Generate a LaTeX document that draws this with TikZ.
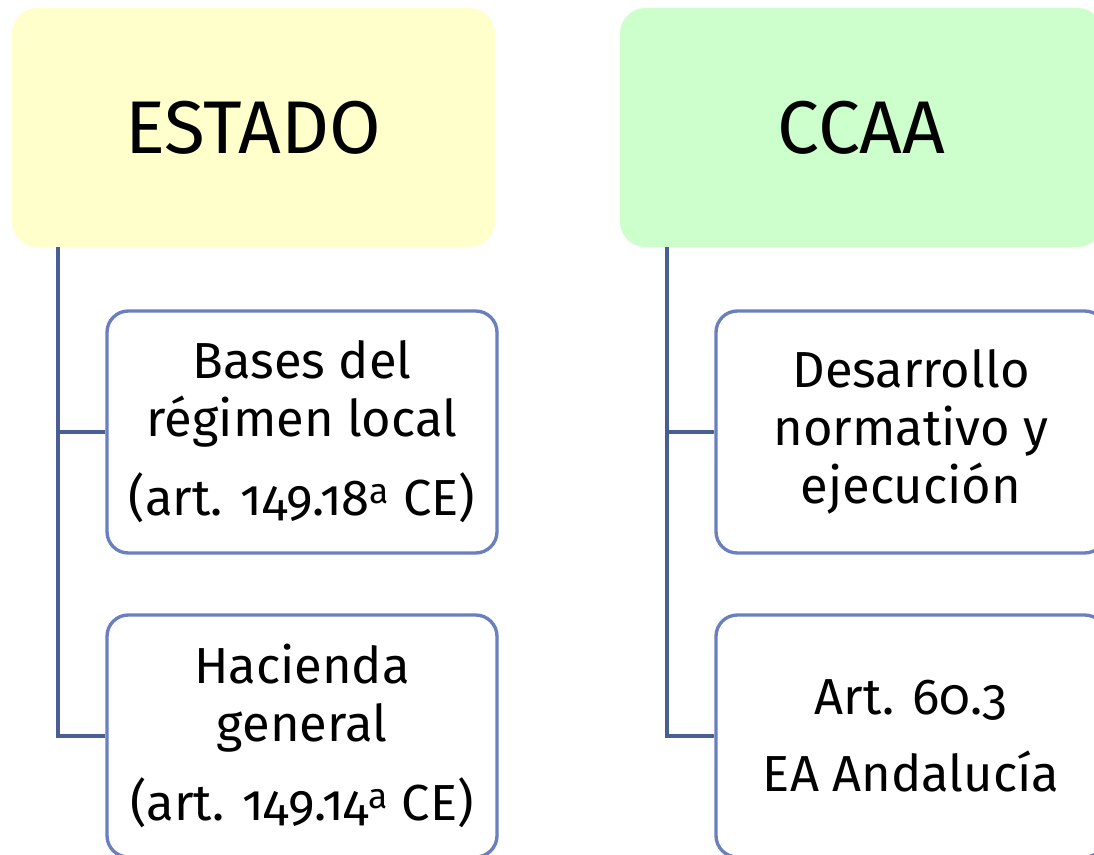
\documentclass[tikz,border=0pt]{standalone}
\usepackage{fontspec}
\setmainfont{Fira Sans}[Numbers=OldStyle]
\definecolor{lineblue}{HTML}{4A5E96}
\definecolor{boxblue}{HTML}{6A7FBF}
\definecolor{headyellow}{HTML}{FFFFCC}
\definecolor{headgreen}{HTML}{CCFFCC}
\newcommand{\ordA}{\textsuperscript{a}}
\begin{document}
\begin{tikzpicture}[x=0.75pt,y=-0.75pt,
  head/.style={rounded corners=19pt, minimum width=362.25pt, minimum height=179.25pt, inner sep=0pt, font=\fontsize{56}{60}\selectfont},
  child/.style={draw=boxblue, line width=2.5pt, rounded corners=16pt, fill=white, minimum width=292.5pt, minimum height=181.5pt, align=center, inner sep=0pt, font=\fontsize{38}{43.5}\selectfont},
  conn/.style={draw=lineblue, line width=2.5pt}]
\useasboundingbox (0,0) rectangle (1094,855);
\clip (0,0) rectangle (1094,855);
\fill[white] (0,0) rectangle (1094,855);
\node[head, fill=headyellow] (estado) at (253.5,127.5) {ESTADO};
\node[head, fill=headgreen] (ccaa) at (861.5,127.5) {CCAA};
\coordinate (eL) at (58,248);
\coordinate (cL) at (667,248);
\node[child] (c1) at (302,432) {Bases del\\régimen local\\[15.75pt](art. 149.18\ordA{} CE)};
\node[child] (c2) at (302,736) {Hacienda\\general\\[15.75pt](art. 149.14\ordA{} CE)};
\node[child] (c3) at (911,432) {Desarrollo\\normativo y\\ejecución};
\node[child] (c4) at (911,736) {Art. 60.3\\[14.25pt]EA Andalucía};
\draw[conn] (estado.south -| eL) |- (c2.west);
\draw[conn] (eL |- c1.west) -- (c1.west);
\draw[conn] (ccaa.south -| cL) |- (c4.west);
\draw[conn] (cL |- c3.west) -- (c3.west);
\end{tikzpicture}
\end{document}
